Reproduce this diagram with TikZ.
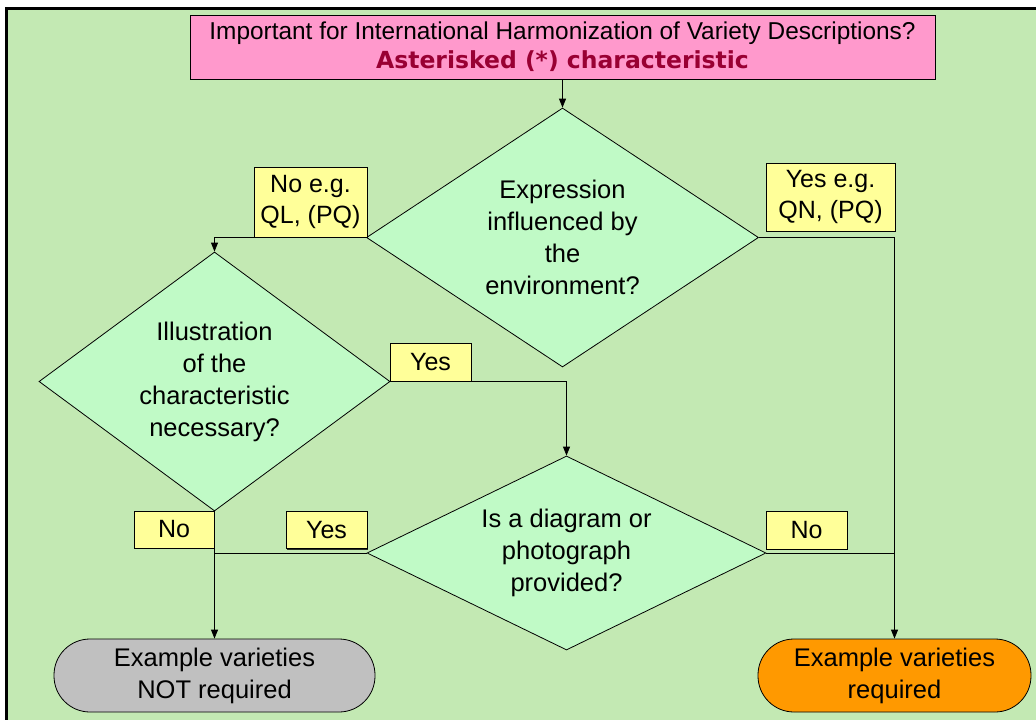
\documentclass[tikz,border=0pt]{standalone}
\usepackage{fontspec}
\setmainfont{Liberation Sans}
\newfontfamily\boldfam{DejaVu Sans}
\usetikzlibrary{shapes.geometric,shadows,arrows.meta}
\definecolor{bggreen}{HTML}{C3E9B3}
\definecolor{dmint}{HTML}{C0FAC6}
\definecolor{lblyellow}{HTML}{FFFF99}
\definecolor{pinkbox}{HTML}{FF99CC}
\definecolor{darkred}{HTML}{990033}
\definecolor{orangeT}{HTML}{FF9900}
\definecolor{grayT}{HTML}{C0C0C0}
\begin{document}
\begin{tikzpicture}[x=1pt,y=-1pt,
  decision/.style={diamond, draw=black, line width=0.8pt, fill=dmint, inner sep=0pt, align=center, font=\fontsize{25.5}{32}\selectfont},
  lbl/.style={rectangle, draw=black, line width=0.8pt, fill=lblyellow, inner sep=0pt, align=center, font=\fontsize{25}{31}\selectfont, drop shadow={shadow xshift=0.8pt, shadow yshift=-1.4pt, fill=black, opacity=0.8}},
  term/.style={rectangle, rounded corners=36pt, draw=black, line width=0.8pt, minimum height=73pt, inner sep=0pt, align=center, font=\fontsize{25.5}{32}\selectfont},
  conn/.style={line width=0.8pt, draw=black},
  arr/.style={conn, -{Triangle[width=7pt,length=9pt]}}
]
\useasboundingbox (0,0) rectangle (1036,720);
\fill[white] (0,0) rectangle (1036,720);
\fill[bggreen] (6.5,8.5) rectangle (1036,720);
\draw[line width=3pt] (6.5,720) -- (6.5,8.5) -- (1036,8.5);

\node[draw=black, line width=0.8pt, fill=pinkbox, minimum width=745pt, minimum height=64pt, inner sep=0pt, align=center, font=\fontsize{24.4}{29}\selectfont] (top) at (562.5,47)
  {Important for International Harmonization of Variety Descriptions?\\{\boldfam\bfseries\fontsize{23.5}{29}\selectfont\color{darkred}Asterisked (*) characteristic}};

\node[decision, minimum width=392pt, minimum height=259pt, shape aspect=1.52] (d1) at (562.5,237.5) {Expression\\influenced by\\the\\environment?};
\node[decision, minimum width=351pt, minimum height=259pt, shape aspect=1.36] (d2) at (214.5,381.5) {Illustration\\of the\\characteristic\\necessary?};
\node[decision, minimum width=399pt, minimum height=194pt, shape aspect=2.06] (d3) at (566.5,553) {Is a diagram or\\photograph\\provided?};

\node[term, fill=grayT, minimum width=321pt] (t1) at (214.5,675.5) {Example varieties\\NOT required};
\node[term, fill=orangeT, minimum width=273pt] (t2) at (894.5,675.5) {Example varieties\\required};

\draw[arr] (top.south) -- (d1.north);
\draw[arr] (d1.west) -| (d2.north);
\draw[arr] (d1.east) -| (t2.north);
\draw[arr] (d2.east) -| (d3.north);
\draw[arr] (d2.south) -- (t1.north);
\draw[conn] (d3.west) -- (d3.west -| t1.north);
\draw[conn] (d3.east) -- (d3.east -| t2.north);

\node[lbl, minimum width=113pt, minimum height=70pt] (l1) at (310.5,202) {No e.g.\\QL, (PQ)};
\node[lbl, minimum width=129pt, minimum height=68pt] (l2) at (830.5,197) {Yes e.g.\\QN, (PQ)};
\node[lbl, minimum width=81pt, minimum height=38pt] (l3) at (430.5,362) {Yes};
\node[lbl, minimum width=80pt, minimum height=37pt] (l4) at (174,529.5) {No};
\node[lbl, minimum width=81pt, minimum height=37pt] (l5) at (326.5,530) {Yes};
\node[lbl, minimum width=81pt, minimum height=38pt] (l6) at (806.5,530) {No};
\end{tikzpicture}
\end{document}
